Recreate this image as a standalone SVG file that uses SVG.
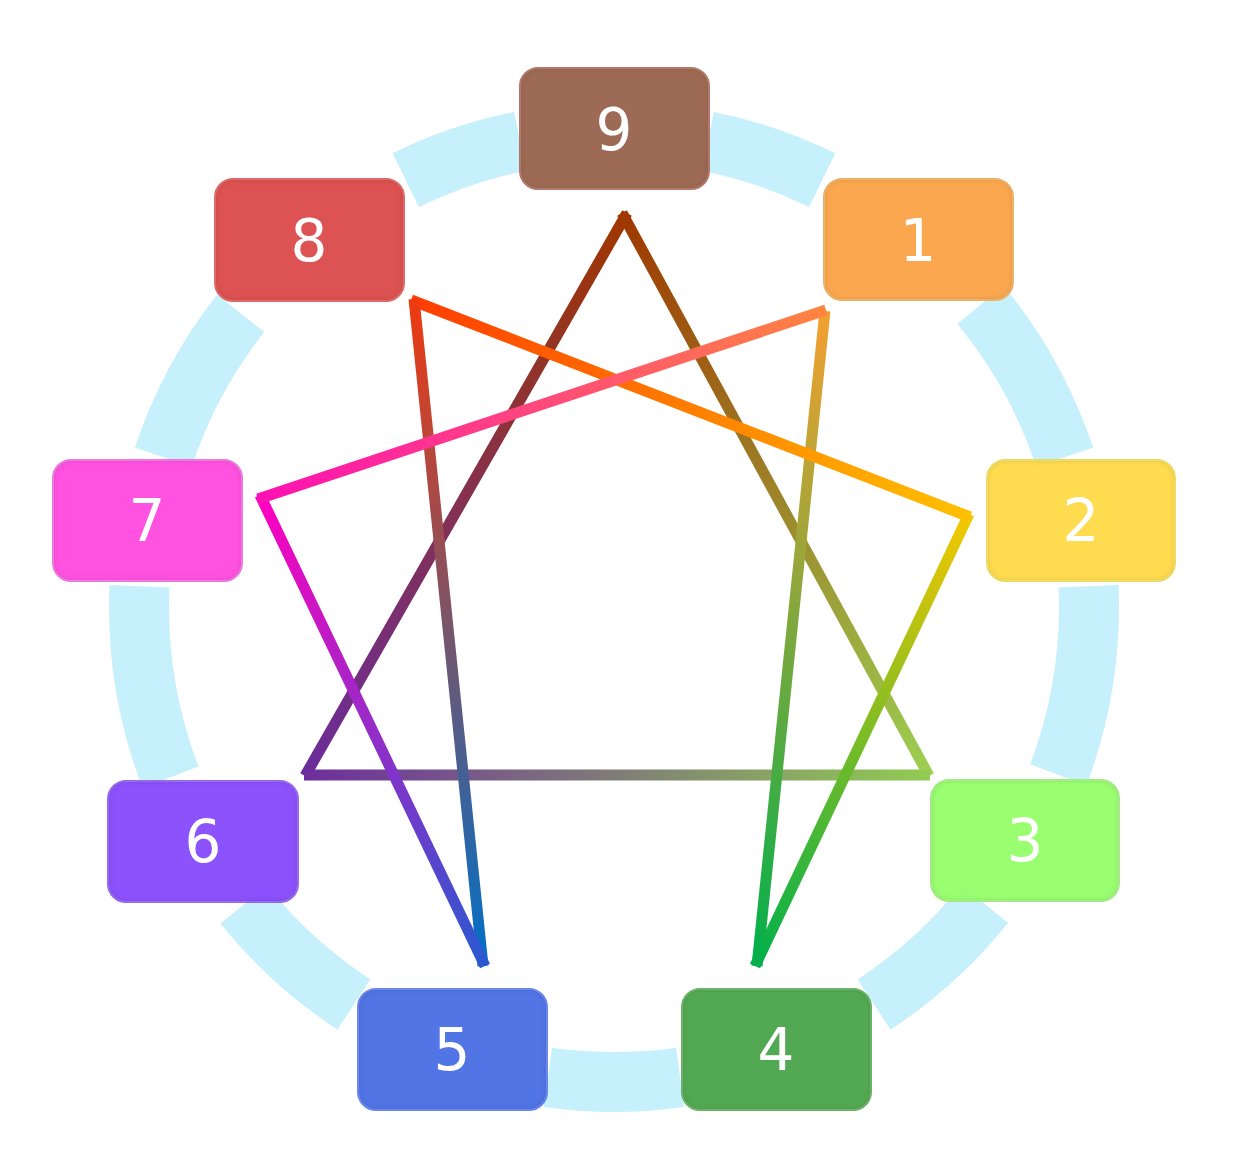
<svg xmlns="http://www.w3.org/2000/svg" width="1238" height="1170" viewBox="0 0 1238 1170">
<defs>
  <style>
    .ring{fill:none;stroke:#C6F0FC;stroke-width:60;stroke-linecap:butt}
    .ln{stroke-width:11;stroke-linecap:butt;fill:none}
    .box{stroke-width:2;filter:url(#bevel);opacity:0.96}
    .lbl{font-family:"DejaVu Sans","Liberation Sans",sans-serif;font-size:58px;fill:#FFFFFF;text-anchor:middle}
  </style>
  <filter id="bevel" x="-5%" y="-5%" width="110%" height="110%">
    <feGaussianBlur in="SourceAlpha" stdDeviation="3" result="b"/>
    <feComposite in="SourceAlpha" in2="b" operator="arithmetic" k2="1" k3="-1" result="edge"/>
    <feFlood flood-color="#000000" flood-opacity="0.45"/>
    <feComposite in2="edge" operator="in" result="shadow"/>
    <feMerge><feMergeNode in="SourceGraphic"/><feMergeNode in="shadow"/></feMerge>
  </filter>
  <linearGradient id="g96" gradientUnits="userSpaceOnUse" x1="625" y1="215" x2="305" y2="775"><stop offset="0" stop-color="#A03600"/><stop offset="1" stop-color="#6A2C9C"/></linearGradient>
  <linearGradient id="g93" gradientUnits="userSpaceOnUse" x1="625" y1="215" x2="930" y2="775"><stop offset="0" stop-color="#9E3800"/><stop offset="1" stop-color="#9CD052"/></linearGradient>
  <linearGradient id="g63" gradientUnits="userSpaceOnUse" x1="304" y1="775" x2="930" y2="775"><stop offset="0" stop-color="#6E2E9C"/><stop offset="1" stop-color="#92CC52"/></linearGradient>
  <linearGradient id="g14" gradientUnits="userSpaceOnUse" x1="824" y1="312" x2="757" y2="965"><stop offset="0" stop-color="#F4A030"/><stop offset="1" stop-color="#00B04C"/></linearGradient>
  <linearGradient id="g42" gradientUnits="userSpaceOnUse" x1="757" y1="965" x2="968" y2="515"><stop offset="0" stop-color="#00B04C"/><stop offset="1" stop-color="#F4C800"/></linearGradient>
  <linearGradient id="g28" gradientUnits="userSpaceOnUse" x1="968" y1="515" x2="412" y2="300"><stop offset="0" stop-color="#FFC000"/><stop offset="1" stop-color="#FF3C00"/></linearGradient>
  <linearGradient id="g85" gradientUnits="userSpaceOnUse" x1="412" y1="300" x2="482" y2="965"><stop offset="0" stop-color="#EE3A10"/><stop offset="1" stop-color="#0070C8"/></linearGradient>
  <linearGradient id="g57" gradientUnits="userSpaceOnUse" x1="482" y1="965" x2="260" y2="497"><stop offset="0" stop-color="#2A58D0"/><stop offset="1" stop-color="#FF00C0"/></linearGradient>
  <linearGradient id="g71" gradientUnits="userSpaceOnUse" x1="260" y1="497" x2="824" y2="310"><stop offset="0" stop-color="#FF10B4"/><stop offset="1" stop-color="#FF8440"/></linearGradient>
</defs>
<rect width="1238" height="1170" fill="#FFFFFF"/>
<g id="ring">
  <path class="ring" d="M707.9 141.4 A475 475 0 0 1 822.2 180.1"/>
  <path class="ring" d="M980.5 304.9 A475 475 0 0 1 1064.7 457.1"/>
  <path class="ring" d="M1088.5 586.3 A475 475 0 0 1 1058.3 774.9"/>
  <path class="ring" d="M984.7 904.0 A475 475 0 0 1 874.1 1004.5"/>
  <path class="ring" d="M680.1 1077.4 A475 475 0 0 1 547.9 1077.4"/>
  <path class="ring" d="M353.9 1004.5 A475 475 0 0 1 243.8 904.6"/>
  <path class="ring" d="M170.5 777.2 A475 475 0 0 1 139.5 586.3"/>
  <path class="ring" d="M163.3 457.1 A475 475 0 0 1 240.6 313.4"/>
  <path class="ring" d="M405.8 180.1 A475 475 0 0 1 520.1 141.4"/>
</g>
<g id="connectors">
  <line class="ln" stroke="url(#g96)" x1="627" y1="213" x2="305" y2="776"/>
  <line class="ln" stroke="url(#g93)" x1="622" y1="213" x2="929" y2="776"/>
  <line class="ln" stroke="url(#g63)" x1="304" y1="775" x2="930" y2="775"/>
  <line class="ln" stroke="url(#g14)" x1="825" y1="311" x2="757" y2="966"/>
  <line class="ln" stroke="url(#g42)" x1="755" y1="966" x2="969" y2="514"/>
  <line class="ln" stroke="url(#g28)" x1="970" y1="517" x2="411" y2="300"/>
  <line class="ln" stroke="url(#g85)" x1="414" y1="299" x2="483" y2="966"/>
  <line class="ln" stroke="url(#g57)" x1="485" y1="966" x2="260" y2="495"/>
  <line class="ln" stroke="url(#g71)" x1="258" y1="499" x2="826" y2="310"/>
</g>
<g id="node9"><rect class="box" x="520" y="68" width="189" height="121" rx="18" fill="#9A6550" stroke="#C08070"/><text class="lbl" x="614" y="150">9</text></g>
<g id="node1"><rect class="box" x="824" y="179" width="189" height="121" rx="18" fill="#FBA448" stroke="#FFC070"/><text class="lbl" x="918" y="261">1</text></g>
<g id="node2"><rect class="box" x="987" y="460" width="188" height="121" rx="18" fill="#FFDA48" stroke="#FFEE70"/><text class="lbl" x="1081" y="541">2</text></g>
<g id="node3"><rect class="box" x="931" y="780" width="188" height="121" rx="18" fill="#96FE6C" stroke="#B0FF90"/><text class="lbl" x="1025" y="861">3</text></g>
<g id="node4"><rect class="box" x="682" y="989" width="189" height="121" rx="18" fill="#4EA64E" stroke="#70C070"/><text class="lbl" x="776" y="1070">4</text></g>
<g id="node5"><rect class="box" x="358" y="989" width="189" height="121" rx="18" fill="#4C70E4" stroke="#7090FF"/><text class="lbl" x="452" y="1070">5</text></g>
<g id="node6"><rect class="box" x="108" y="781" width="190" height="121" rx="18" fill="#884CFC" stroke="#A070FF"/><text class="lbl" x="203" y="862">6</text></g>
<g id="node7"><rect class="box" x="53" y="460" width="189" height="121" rx="18" fill="#FF4CE0" stroke="#FF80F0"/><text class="lbl" x="147" y="541">7</text></g>
<g id="node8"><rect class="box" x="215" y="179" width="189" height="122" rx="18" fill="#DC4C4C" stroke="#F07070"/><text class="lbl" x="309" y="261">8</text></g>
</svg>
